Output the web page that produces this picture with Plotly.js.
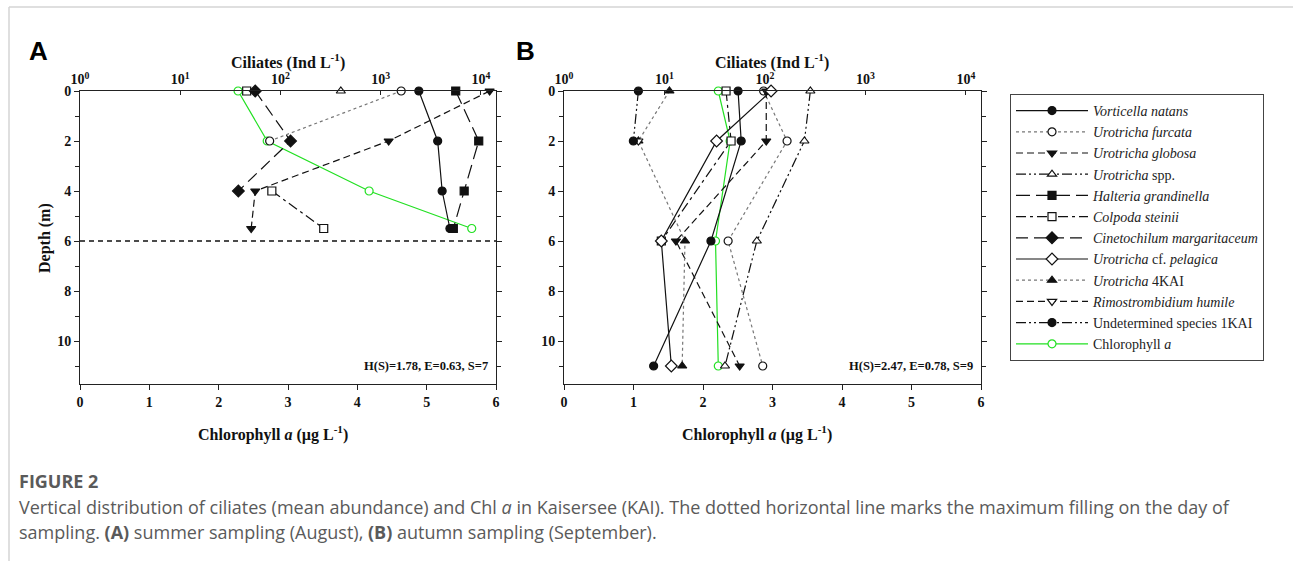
<!DOCTYPE html>
<html>
<head>
<meta charset="utf-8">
<script src="https://cdn.plot.ly/plotly-3.0.1.min.js"></script>
<style>
  html, body { margin: 0; padding: 0; background: #fff; }
  #chart { width: 1293px; height: 561px; }
</style>
</head>
<body>
<div id="chart"></div>
<script>
// ---------- DATA ----------
// Panel A: summer sampling (August)
const depthA = [0, 2, 4, 5.5];
const chlA = [2.28, 2.70, 4.17, 5.65];
const vorticellaA = [2400, 3700, 4100, 4900];
const furcataA = [1600, 78, null, null];
const globosaA = [12200, 1200, 56, 51];
const sppA = [400, null, null, null];
const halteriaA = [5600, 9500, 6800, 5300];
const colpodaA = [46, null, 82, 270];
const cinetochilumA = [56, 126, 38, null];
const maxFillingDepthA = 6;

// Panel B: autumn sampling (September)
const depthB = [0, 2, 6, 11];
const chlB = [2.22, 2.39, 2.18, 2.22];
const vorticellaB = [54, 58, 29, 7.8];
const furcataB = [97, 166, 43, 95];
const globosaB = [103, 103, 13, 56];
const sppB = [283, 247, 83, 40];
const colpodaB = [41, 46, 9.3, null];
const pelagicaB = [115, 33, 9.3, 11.7];
const uro4KAIB = [11.2, 5.5, 16, 15];
const rimostrombidiumB = [null, 5.5, null, null];
const undeterminedB = [5.5, 4.9, null, null];

// Tick labels / texts
const logTickVals = [1, 10, 100, 1000, 10000];
const logTickText = ['10<sup>0</sup>', '10<sup>1</sup>', '10<sup>2</sup>', '10<sup>3</sup>', '10<sup>4</sup>'];
const diversityA = 'H(S)=1.78, E=0.63, S=7';
const diversityB = 'H(S)=2.47, E=0.78, S=9';

// ---------- STYLES ----------
const W = 1293, H = 561;
const SERIF = 'Liberation Serif, Times New Roman, serif';
const BLACK = '#111';
const GRAY = '#777';
const GREEN = '#22e022';

const species = {
  vorticella:   {name: '<i>Vorticella natans</i>', rank: 1, dash: 'solid', color: BLACK, symbol: 'circle', fill: BLACK},
  furcata:      {name: '<i>Urotricha furcata</i>', rank: 2, dash: 'dot', color: GRAY, symbol: 'circle', fill: '#fff'},
  globosa:      {name: '<i>Urotricha globosa</i>', rank: 3, dash: '7px,4px', color: BLACK, symbol: 'triangle-down', fill: BLACK},
  spp:          {name: '<i>Urotricha</i> spp.', rank: 4, dash: '10px,3px,2px,3px,2px,3px', color: BLACK, symbol: 'triangle-up', fill: '#fff'},
  halteria:     {name: '<i>Halteria grandinella</i>', rank: 5, dash: '14px,6px', color: BLACK, symbol: 'square', fill: BLACK},
  colpoda:      {name: '<i>Colpoda steinii</i>', rank: 6, dash: '10px,4px,3px,4px', color: BLACK, symbol: 'square', fill: '#fff'},
  cinetochilum: {name: '<i>Cinetochilum margaritaceum</i>', rank: 7, dash: '12px,6px', color: BLACK, symbol: 'diamond', fill: BLACK},
  pelagica:     {name: '<i>Urotricha</i> cf. <i>pelagica</i>', rank: 8, dash: 'solid', color: BLACK, symbol: 'diamond', fill: '#fff'},
  uro4KAI:      {name: '<i>Urotricha</i> 4KAI', rank: 9, dash: 'dot', color: GRAY, symbol: 'triangle-up', fill: BLACK},
  rimo:         {name: '<i>Rimostrombidium humile</i>', rank: 10, dash: '7px,4px', color: BLACK, symbol: 'triangle-down', fill: '#fff'},
  undet:        {name: 'Undetermined species 1KAI', rank: 11, dash: '10px,3px,2px,3px,2px,3px', color: BLACK, symbol: 'circle', fill: BLACK},
  chl:          {name: 'Chlorophyll <i>a</i>', rank: 12, dash: 'solid', color: GREEN, symbol: 'circle', fill: '#fff'}
};

const shown = {};
function tr(key, xs, ys, xa, ya) {
  const s = species[key];
  const first = !shown[key];
  shown[key] = true;
  return {
    type: 'scatter', mode: 'lines+markers',
    x: xs, y: ys, xaxis: xa, yaxis: ya,
    name: s.name, legendgroup: key, legendrank: s.rank, showlegend: first,
    line: {color: s.color, width: 1.2, dash: s.dash},
    marker: {symbol: s.symbol, size: s.symbol === 'diamond' ? 9 : 8, color: s.fill,
             line: {color: key === 'chl' ? GREEN : BLACK, width: 1.2}},
    connectgaps: false, cliponaxis: false
  };
}

const traces = [
  tr('vorticella', vorticellaA, depthA, 'x2', 'y'),
  tr('furcata', furcataA, depthA, 'x2', 'y'),
  tr('globosa', globosaA, depthA, 'x2', 'y'),
  tr('spp', sppA, depthA, 'x2', 'y'),
  tr('halteria', halteriaA, depthA, 'x2', 'y'),
  tr('colpoda', colpodaA, depthA, 'x2', 'y'),
  tr('cinetochilum', cinetochilumA, depthA, 'x2', 'y'),
  tr('chl', chlA, depthA, 'x', 'y'),
  tr('vorticella', vorticellaB, depthB, 'x4', 'y2'),
  tr('furcata', furcataB, depthB, 'x4', 'y2'),
  tr('globosa', globosaB, depthB, 'x4', 'y2'),
  tr('spp', sppB, depthB, 'x4', 'y2'),
  tr('colpoda', colpodaB, depthB, 'x4', 'y2'),
  tr('pelagica', pelagicaB, depthB, 'x4', 'y2'),
  tr('uro4KAI', uro4KAIB, depthB, 'x4', 'y2'),
  tr('rimo', rimostrombidiumB, depthB, 'x4', 'y2'),
  tr('undet', undeterminedB, depthB, 'x4', 'y2'),
  tr('chl', chlB, depthB, 'x3', 'y2')
];

// ---------- LAYOUT ----------
const px = v => v / W;
const py = v => 1 - v / H;
const yDom = [py(384), py(91)];
const domA = [px(80), px(496)];
const domB = [px(564), px(981)];

const tickFont = {family: SERIF, size: 14, color: BLACK, weight: 'bold'};
const baseAxis = {
  showgrid: false, zeroline: false, showline: true, linecolor: '#222', linewidth: 1,
  ticks: 'outside', ticklen: 5, tickcolor: '#222', tickwidth: 1, tickfont: tickFont, automargin: false
};
function chlAxis(dom, ya) {
  return Object.assign({}, baseAxis, {domain: dom, anchor: ya, side: 'bottom', range: [0, 6], dtick: 1, tick0: 0, mirror: false});
}
function logAxis(over, ya) {
  return Object.assign({}, baseAxis, {overlaying: over, anchor: ya, side: 'top', type: 'log', range: [0, 4.15],
    tickvals: logTickVals, ticktext: logTickText, ticks: 'inside', ticklen: 4});
}
function depthAxis() {
  return Object.assign({}, baseAxis, {domain: yDom, range: [11.72, 0], dtick: 2, tick0: 0, mirror: 'ticks',
    minor: {dtick: 1, tick0: 0, ticks: 'outside', ticklen: 4, tickcolor: '#222', showgrid: false}});
}

function ann(x, y, text, font, extra) {
  return Object.assign({xref: 'paper', yref: 'paper', x: px(x), y: py(y), text: text, showarrow: false,
    xanchor: 'center', yanchor: 'middle', font: font}, extra || {});
}
const titleFont = {family: SERIF, size: 16, color: BLACK, weight: 'bold'};
const panelFont = {family: 'Liberation Sans, Arial, sans-serif', size: 26, color: '#000', weight: 'bold'};
const capFont = {family: 'Open Sans, sans-serif', size: 18, color: '#5a5a5a'};

const layout = {
  width: W, height: H,
  margin: {l: 0, r: 0, t: 0, b: 0, pad: 0},
  paper_bgcolor: '#fff', plot_bgcolor: '#fff',
  font: {family: SERIF, color: BLACK},
  showlegend: true,
  xaxis: chlAxis(domA, 'y'),
  xaxis2: logAxis('x', 'y'),
  yaxis: Object.assign(depthAxis(), {anchor: 'x'}),
  xaxis3: chlAxis(domB, 'y2'),
  xaxis4: logAxis('x3', 'y2'),
  yaxis2: Object.assign(depthAxis(), {anchor: 'x3'}),
  legend: {
    x: px(1010), y: py(94), xanchor: 'left', yanchor: 'top',
    bordercolor: '#444', borderwidth: 1, bgcolor: '#fff',
    font: {family: SERIF, size: 14, color: '#222'},
    itemwidth: 72, tracegroupgap: 0, traceorder: 'normal'
  },
  shapes: [
    {type: 'line', xref: 'x domain', yref: 'y', x0: 0, x1: 1, y0: maxFillingDepthA, y1: maxFillingDepthA,
     line: {color: BLACK, width: 1.5, dash: '5px,4px'}},
    {type: 'line', xref: 'paper', yref: 'paper', x0: px(9), x1: 1, y0: py(7), y1: py(7), line: {color: '#d4d4d4', width: 1.5}},
    {type: 'line', xref: 'paper', yref: 'paper', x0: px(9), x1: px(9), y0: py(7), y1: 0, line: {color: '#d4d4d4', width: 1.5}}
  ],
  annotations: [
    ann(38, 51, 'A', panelFont),
    ann(525, 51, 'B', panelFont),
    ann(288, 62, 'Ciliates (Ind L<sup>-1</sup>)', titleFont),
    ann(772, 62, 'Ciliates (Ind L<sup>-1</sup>)', titleFont),
    ann(273, 434, 'Chlorophyll <i>a</i> (µg L<sup>-1</sup>)', titleFont),
    ann(757, 434, 'Chlorophyll <i>a</i> (µg L<sup>-1</sup>)', titleFont),
    ann(45, 238, 'Depth (m)', titleFont, {textangle: -90}),
    {xref: 'x domain', yref: 'y', x: 0.985, y: 11, xanchor: 'right', yanchor: 'middle', text: diversityA, showarrow: false,
     font: {family: SERIF, size: 12.5, color: BLACK, weight: 'bold'}},
    {xref: 'x3 domain', yref: 'y2', x: 0.985, y: 11, xanchor: 'right', yanchor: 'middle', text: diversityB, showarrow: false,
     font: {family: SERIF, size: 12.5, color: BLACK, weight: 'bold'}},
    ann(17, 481, 'FIGURE 2', {family: 'Open Sans, sans-serif', size: 18, color: '#5a5a5a', weight: 'bold'}, {xanchor: 'left'}),
    ann(17, 507, 'Vertical distribution of ciliates (mean abundance) and Chl <i>a</i> in Kaisersee (KAI). The dotted horizontal line marks the maximum filling on the day of', capFont, {xanchor: 'left'}),
    ann(17, 532, 'sampling. <b>(A)</b> summer sampling (August), <b>(B)</b> autumn sampling (September).', capFont, {xanchor: 'left'})
  ]
};

Plotly.newPlot('chart', traces, layout, {staticPlot: true, displayModeBar: false});
</script>
</body>
</html>
